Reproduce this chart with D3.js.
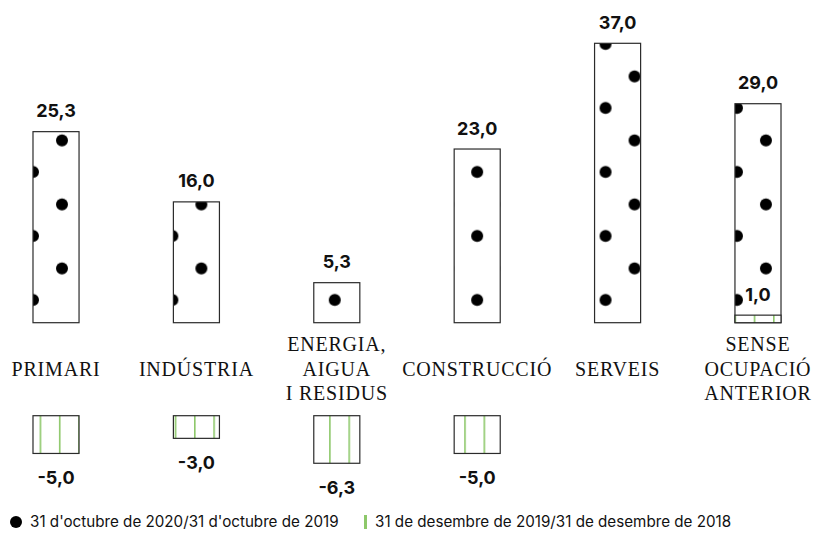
<!DOCTYPE html>
<html lang="ca">
<head>
<meta charset="utf-8">
<title>Variació per sector</title>
<script src="https://cdn.jsdelivr.net/npm/d3@7"></script>
<style>
  body { margin: 0; background: #fff; }
  svg { display: block; }
  .val { font-family: Inter, "Noto Sans", sans-serif; font-weight: 700; font-size: 18px; fill: #111; text-anchor: middle; }
  .cat { font-family: "Liberation Serif", "DejaVu Serif", serif; font-size: 20px; letter-spacing: 0.8px; fill: #111; text-anchor: middle; }
  .leg { font-family: Inter, "Noto Sans", sans-serif; font-size: 15.2px; fill: #111; }
</style>
</head>
<body>
<svg id="chart" width="815" height="534"></svg>
<script>
// data
var categories = [["PRIMARI"], ["INDÚSTRIA"], ["ENERGIA,", "AIGUA", "I RESIDUS"], ["CONSTRUCCIÓ"], ["SERVEIS"], ["SENSE", "OCUPACIÓ", "ANTERIOR"]];
var catKeys = ["primari", "industria", "energia", "construccio", "serveis", "sense"];
var oct2020 = [25.3, 16.0, 5.3, 23.0, 37.0, 29.0];
var dec2019 = [-5.0, -3.0, -6.3, -5.0, null, 1.0];
var legendLabels = ["31 d'octubre de 2020/31 d'octubre de 2019", "31 de desembre de 2019/31 de desembre de 2018"];

// styling
var green = "#8dc86a",
    ink = "#2b2b2b",
    dotPhase = [0, -1, 21, 23, 11, 2]; // where the dot pattern starts in each bar

var fmt = d3.formatLocale({decimal: ",", thousands: ".", grouping: [3], currency: ["", " €"], minus: "-"}).format(".1f");

var svg = d3.select("#chart");

var x = d3.scaleBand()
    .domain(catKeys)
    .range([0, 814])
    .paddingInner(0.672)
    .paddingOuter(0.235);

// upper panel (positive) and lower panel (negative) share the same px per unit
var y = d3.scaleLinear().domain([0, 37]).range([322.7, 43.3]);
var pxPerUnit = (y(0) - y(37)) / 37;
var yNeg = d3.scaleLinear().domain([0, -10]).range([415.7, 415.7 + 10 * pxPerUnit]);

var defs = svg.append("defs");

// one dot pattern per bar, anchored on the bar's left edge
catKeys.forEach(function(k, i) {
  var p = defs.append("pattern")
      .attr("id", "dots-" + k)
      .attr("patternUnits", "userSpaceOnUse")
      .attr("x", x(k) + dotPhase[i])
      .attr("y", y(0))
      .attr("width", 58)
      .attr("height", 64);
  p.append("rect").attr("width", 58).attr("height", 64).attr("fill", "#fff");
  [[0, 41.3], [58, 41.3], [29, 9.7], [29, 73.7]].forEach(function(c) {
    p.append("circle").attr("cx", c[0]).attr("cy", c[1]).attr("r", 6).attr("fill", "#000");
  });
});

var gp = defs.append("pattern")
    .attr("id", "greenLines")
    .attr("patternUnits", "userSpaceOnUse")
    .attr("x", 1)
    .attr("y", 0)
    .attr("width", 19.3)
    .attr("height", 10);
gp.append("rect").attr("width", 19.3).attr("height", 10).attr("fill", "#fff");
gp.append("rect").attr("x", 0).attr("width", 1.6).attr("height", 10).attr("fill", green);

// 2020 bars
var gTop = svg.append("g");
gTop.selectAll("rect")
  .data(oct2020)
  .join("rect")
    .attr("x", function(d, i) { return x(catKeys[i]); })
    .attr("y", function(d) { return y(d); })
    .attr("width", x.bandwidth())
    .attr("height", function(d) { return y(0) - y(d); })
    .attr("fill", function(d, i) { return "url(#dots-" + catKeys[i] + ")"; })
    .attr("stroke", ink)
    .attr("stroke-width", 1.2);

gTop.selectAll("text")
  .data(oct2020)
  .join("text")
    .attr("class", "val")
    .attr("x", function(d, i) { return x(catKeys[i]) + x.bandwidth() / 2; })
    .attr("y", function(d) { return y(d) - 14.5; })
    .text(fmt);

// 2019 bars: positives sit on the top baseline, negatives hang from the lower one
var prev = dec2019.map(function(v, i) { return {k: catKeys[i], v: v}; }).filter(function(d) { return d.v != null; });
var pos = prev.filter(function(d) { return d.v > 0; });
var neg = prev.filter(function(d) { return d.v < 0; });

var g2 = svg.append("g");
g2.selectAll("rect.pos")
  .data(pos)
  .join("rect")
    .attr("class", "pos")
    .attr("x", function(d) { return x(d.k); })
    .attr("y", function(d) { return y(d.v); })
    .attr("width", x.bandwidth())
    .attr("height", function(d) { return y(0) - y(d.v); })
    .attr("fill", "url(#greenLines)")
    .attr("stroke", ink)
    .attr("stroke-width", 1.2);

g2.selectAll("text.pos")
  .data(pos)
  .join("text")
    .attr("class", "val pos")
    .attr("x", function(d) { return x(d.k) + x.bandwidth() / 2; })
    .attr("y", function(d) { return y(d.v) - 14; })
    .text(function(d) { return fmt(d.v); });

g2.selectAll("rect.neg")
  .data(neg)
  .join("rect")
    .attr("class", "neg")
    .attr("x", function(d) { return x(d.k); })
    .attr("y", yNeg(0))
    .attr("width", x.bandwidth())
    .attr("height", function(d) { return yNeg(d.v) - yNeg(0); })
    .attr("fill", "url(#greenLines)")
    .attr("stroke", ink)
    .attr("stroke-width", 1.2);

g2.selectAll("text.neg")
  .data(neg)
  .join("text")
    .attr("class", "val neg")
    .attr("x", function(d) { return x(d.k) + x.bandwidth() / 2; })
    .attr("y", function(d) { return yNeg(d.v) + 31; })
    .text(function(d) { return fmt(d.v); });

// category labels, middle line on a common baseline
var lineH = 24.5, midBase = 375.7;
svg.append("g").selectAll("text")
  .data(categories)
  .join("text")
    .attr("class", "cat")
    .attr("x", function(d, i) { return x(catKeys[i]) + x.bandwidth() / 2; })
    .attr("y", function(d) { return midBase - (d.length - 1) / 2 * lineH; })
    .each(function(d) {
      var t = d3.select(this), cx = t.attr("x");
      d.forEach(function(line, j) {
        t.append("tspan").attr("x", cx).attr("dy", j ? lineH : 0).text(line);
      });
    });

// legend
var leg = svg.append("g");
leg.append("circle").attr("cx", 16).attr("cy", 522).attr("r", 6).attr("fill", "#000");
leg.append("text").attr("class", "leg").attr("x", 30).attr("y", 527).text(legendLabels[0]);
leg.append("rect").attr("x", 364).attr("y", 515).attr("width", 3).attr("height", 14).attr("fill", green);
leg.append("text").attr("class", "leg").attr("x", 375).attr("y", 527).text(legendLabels[1]);
</script>
</body>
</html>
